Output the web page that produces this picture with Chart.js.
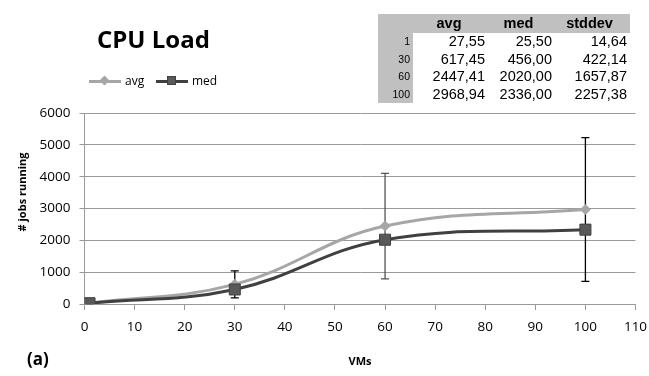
<!DOCTYPE html>
<html>
<head>
<meta charset="utf-8">
<script src="https://cdn.jsdelivr.net/npm/chart.js@4"></script>
<style>
    body { margin: 0; background: #fff; }
    #wrap { position: relative; width: 649px; height: 376px; overflow: hidden; font-family: "Open Sans", sans-serif; }
    #cpuChart { position: absolute; left: 0; top: 0; }
    .title { position: absolute; left: 97px; top: 22px; font-size: 24px; font-weight: bold; color: #000; }
    .panel { position: absolute; left: 27px; top: 347px; font-size: 17px; font-weight: bold; color: #000; }
    .ytitle { position: absolute; left: 21px; top: 192px; transform: translate(-50%, -50%) rotate(-90deg);
        font-size: 11px; font-weight: bold; white-space: nowrap; color: #000; }
    .legend { position: absolute; left: 89px; top: 72px; font-size: 12px; color: #000; height: 18px; }
    .legend span { position: absolute; top: 0; line-height: 18px; }
    .lg-line { position: absolute; height: 3px; top: 8px; }
    .lg-mark { position: absolute; }
    table.stats { position: absolute; left: 378px; top: 14px; border-collapse: collapse;
        font-family: "Liberation Sans", Arial, sans-serif; font-size: 14.5px; color: #000; }
    table.stats td, table.stats th { padding: 0; height: 17.6px; line-height: 17px; }
    table.stats th { background: #c0c0c0; font-weight: bold; text-align: center; height: 19px; }
    table.stats td { text-align: right; }
    table.stats td.row { background: #c0c0c0; font-size: 10.5px; padding-right: 3px; width: 32px; }
</style>
</head>
<body>
<div id="wrap">
    <canvas id="cpuChart" width="649" height="376"></canvas>
    <div class="title">CPU Load</div>
    <div class="legend" id="legend"></div>
    <div class="ytitle"># jobs running</div>
    <div class="panel">(a)</div>
    <table class="stats" id="stats"></table>
</div>
<script>
// values from the table in the figure
const vms = [1, 30, 60, 100];
const avgJobs = [27.55, 617.45, 2447.41, 2968.94];
const medJobs = [25.5, 456.0, 2020.0, 2336.0];
const stdJobs = [14.64, 422.14, 1657.87, 2257.38];
const errColors = ["#000000", "#000000", "#555555", "#000000"];

const AVG_COLOR = "#a6a6a6";
const MED_COLOR = "#404040";
const MED_FILL = "#595959";
const GRID = "#9a9a9a";

/* ================= TABLE ================= */
function buildTable() {
    const fmt = v => v.toFixed(2).replace(".", ",");
    const colW = [35, 72, 67, 75];
    let html = "<tr><th style='width:" + colW[0] + "px'></th>" +
        "<th style='width:" + colW[1] + "px'>avg</th>" +
        "<th style='width:" + colW[2] + "px'>med</th>" +
        "<th style='width:" + colW[3] + "px;padding-right:3px'>stddev</th></tr>";
    vms.forEach((v, i) => {
        html += `<tr><td class="row">${v}</td><td>${fmt(avgJobs[i])}</td>` +
            `<td>${fmt(medJobs[i])}</td><td style="padding-right:3px">${fmt(stdJobs[i])}</td></tr>`;
    });
    document.getElementById("stats").innerHTML = html;
}

/* ================= LEGEND ================= */
function buildLegend() {
    const lg = document.getElementById("legend");
    lg.innerHTML =
        `<div class="lg-line" style="left:0;width:32px;background:${AVG_COLOR}"></div>` +
        `<div class="lg-mark" style="left:12px;top:5px;width:7px;height:7px;background:${AVG_COLOR};transform:rotate(45deg)"></div>` +
        `<span style="left:36px">avg</span>` +
        `<div class="lg-line" style="left:67px;width:32px;background:${MED_COLOR}"></div>` +
        `<div class="lg-mark" style="left:78px;top:4px;width:9px;height:9px;background:${MED_FILL};border:1px solid ${MED_COLOR};box-sizing:border-box"></div>` +
        `<span style="left:103px">med</span>`;
}

/* ================= ERROR BARS ================= */
const errorBars = {
    id: "errorBars",
    beforeDatasetsDraw(chart) {
        const { ctx, scales: { x, y } } = chart;
        ctx.save();
        ctx.lineWidth = 1.3;
        vms.forEach((v, i) => {
            const px = x.getPixelForValue(v);
            const top = y.getPixelForValue(avgJobs[i] + stdJobs[i]);
            const bot = y.getPixelForValue(avgJobs[i] - stdJobs[i]);
            ctx.strokeStyle = errColors[i];
            ctx.beginPath();
            ctx.moveTo(px, top);
            ctx.lineTo(px, bot);
            ctx.moveTo(px - 4, top);
            ctx.lineTo(px + 4, top);
            ctx.moveTo(px - 4, bot);
            ctx.lineTo(px + 4, bot);
            ctx.stroke();
        });
        ctx.restore();
    }
};

/* ================= CHART ================= */
function buildChart() {
    const ctx = document.getElementById("cpuChart").getContext("2d");
    return new Chart(ctx, {
        type: "line",
        data: {
            datasets: [
                {
                    label: "avg",
                    data: vms.map((v, i) => ({ x: v, y: avgJobs[i] })),
                    borderColor: AVG_COLOR,
                    backgroundColor: AVG_COLOR,
                    borderWidth: 3,
                    pointStyle: "rectRot",
                    pointRadius: 5.5,
                    pointBorderWidth: 0,
                    tension: 0.4,
                    order: 1
                },
                {
                    label: "med",
                    data: vms.map((v, i) => ({ x: v, y: medJobs[i] })),
                    borderColor: MED_COLOR,
                    backgroundColor: MED_FILL,
                    pointBorderColor: MED_COLOR,
                    borderWidth: 3,
                    pointStyle: "rect",
                    pointRadius: 7.8,
                    pointBorderWidth: 1,
                    tension: 0.4,
                    order: 0
                }
            ]
        },
        options: {
            responsive: false,
            animation: false,
            events: [],
            layout: { padding: { left: 0, right: 13.5, top: 113, bottom: 0 } },
            plugins: { legend: { display: false }, tooltip: { enabled: false } },
            scales: {
                x: {
                    type: "linear",
                    min: 0,
                    max: 110,
                    afterFit: s => {
                        s.height = 72;
                        s.paddingLeft = 0;
                        s.paddingRight = 0;
                    },
                    border: { color: GRID, width: 1 },
                    grid: { drawOnChartArea: false, color: GRID, tickLength: 6 },
                    ticks: { stepSize: 10, padding: 9, color: "#000", font: { family: "Open Sans", size: 13.5 } },
                    title: {
                        display: true, text: "VMs", color: "#000",
                        font: { family: "Open Sans", size: 11, weight: "bold" },
                        padding: { top: 0, bottom: 8 }
                    }
                },
                y: {
                    min: 0,
                    max: 6000,
                    afterFit: s => { s.width = 84.5; },
                    border: { color: GRID, width: 1 },
                    grid: { color: GRID, tickLength: 5 },
                    ticks: {
                        stepSize: 1000, padding: 9, color: "#000",
                        font: { family: "Open Sans", size: 13.5 },
                        callback: v => String(v)
                    }
                }
            }
        },
        plugins: [errorBars]
    });
}

document.addEventListener("DOMContentLoaded", () => {
    buildTable();
    buildLegend();
    buildChart();
});
</script>
</body>
</html>
